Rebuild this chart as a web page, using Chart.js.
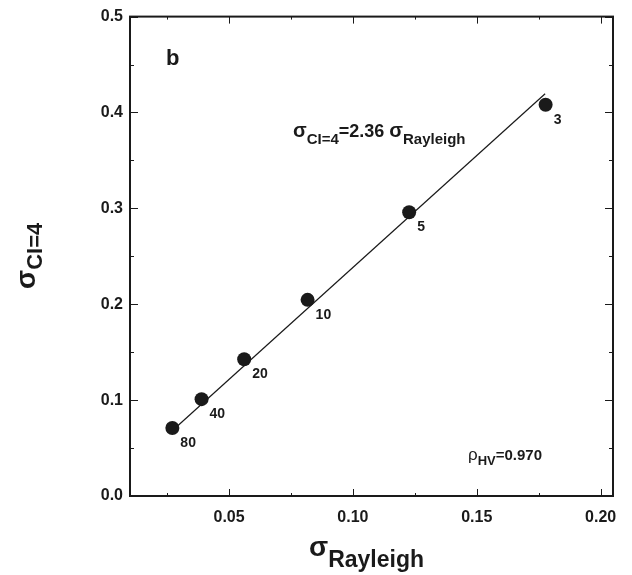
<!DOCTYPE html>
<html>
<head>
<meta charset="utf-8">
<script src="https://cdn.jsdelivr.net/npm/chart.js@4/dist/chart.umd.min.js"></script>
<style>
  html, body { margin: 0; padding: 0; background: #fff; }
  #wrap { width: 632px; height: 575px; }
</style>
</head>
<body>
<div id="wrap"><canvas id="grafica"></canvas></div>
<script>
/* ====== datos ====== */
const xRayleigh = [0.0271, 0.0389, 0.0561, 0.0817, 0.1227, 0.1778];
const yCI4 = [0.0709, 0.101, 0.1427, 0.2046, 0.296, 0.408];
const etiquetas = ["80", "40", "20", "10", "5", "3"];

// recta de ajuste (extremos)
const ajusteX = [0.0285, 0.1776];
const ajusteY = [0.0715, 0.4195];

const xTicks = [0.05, 0.10, 0.15, 0.20];
const xMinor = [0.025, 0.075, 0.125, 0.175];
const yTicks = [0.0, 0.1, 0.2, 0.3, 0.4, 0.5];
const yMinor = [0.05, 0.15, 0.25, 0.35, 0.45];

const FONT = "'Liberation Sans', Arial, sans-serif";
const NEGRO = "#1a1a1a";

/* ====== plugin: marco, ticks internos, textos ====== */
const marco = {
  id: "marco",
  afterDatasetsDraw(chart) {
    const { ctx, chartArea: a, scales } = chart;
    const sx = scales.x, sy = scales.y;
    ctx.save();
    ctx.strokeStyle = NEGRO;
    ctx.lineWidth = 1;

    // ticks hacia adentro
    const tickX = (vals, len) => vals.forEach(v => {
      const px = Math.round(sx.getPixelForValue(v)) + 0.5;
      ctx.beginPath();
      ctx.moveTo(px, a.bottom); ctx.lineTo(px, a.bottom - len);
      ctx.moveTo(px, a.top); ctx.lineTo(px, a.top + len);
      ctx.stroke();
    });
    const tickY = (vals, len) => vals.forEach(v => {
      const py = Math.round(sy.getPixelForValue(v)) + 0.5;
      ctx.beginPath();
      ctx.moveTo(a.left, py); ctx.lineTo(a.left + len, py);
      ctx.moveTo(a.right, py); ctx.lineTo(a.right - len, py);
      ctx.stroke();
    });
    tickX(xTicks, 7); tickX(xMinor, 3);
    tickY(yTicks, 8); tickY(yMinor, 4);

    // marco
    ctx.lineWidth = 2;
    ctx.strokeRect(a.left, a.top, a.right - a.left, a.bottom - a.top);

    // etiquetas de puntos
    ctx.fillStyle = NEGRO;
    ctx.font = "bold 14px " + FONT;
    ctx.textAlign = "left";
    ctx.textBaseline = "middle";
    chart.getDatasetMeta(1).data.forEach((p, i) => {
      ctx.fillText(etiquetas[i], p.x + 8, p.y + 15);
    });

    // texto con subindice
    const conSub = (x, y, partes) => {
      let cx = x;
      ctx.textBaseline = "alphabetic";
      partes.forEach(([txt, font, dy]) => {
        ctx.font = font;
        ctx.fillText(txt, cx, y + dy);
        cx += ctx.measureText(txt).width;
      });
    };

    ctx.font = "bold 22px " + FONT;
    ctx.textBaseline = "alphabetic";
    ctx.fillText("b", 166, 65);

    conSub(293, 137, [
      ["σ", "bold 20px " + FONT, 0],
      ["CI=4", "bold 15px " + FONT, 7],
      ["=2.36 ", "bold 18px " + FONT, 0],
      ["σ", "bold 20px " + FONT, 0],
      ["Rayleigh", "bold 15px " + FONT, 7]
    ]);

    conSub(468, 460, [
      ["ρ", "17px " + FONT, 0],
      ["HV", "bold 13px " + FONT, 5],
      ["=0.970", "bold 15px " + FONT, 0]
    ]);

    // titulos de ejes
    conSub(309, 556, [
      ["σ", "bold 28px " + FONT, 0],
      ["Rayleigh", "bold 23px " + FONT, 11]
    ]);

    ctx.translate(35, 289);
    ctx.rotate(-Math.PI / 2);
    conSub(0, 0, [
      ["σ", "bold 28px " + FONT, 0],
      ["CI=4", "bold 22px " + FONT, 7]
    ]);
    ctx.restore();
  }
};

/* ====== grafica ====== */
new Chart(document.getElementById("grafica"), {
  type: "scatter",
  data: {
    datasets: [
      {
        type: "line",
        data: ajusteX.map((x, i) => ({ x, y: ajusteY[i] })),
        borderColor: NEGRO,
        borderWidth: 1.2,
        pointRadius: 0,
        fill: false
      },
      {
        data: xRayleigh.map((x, i) => ({ x, y: yCI4[i] })),
        backgroundColor: NEGRO,
        borderColor: NEGRO,
        pointRadius: 7,
        pointBorderWidth: 0
      }
    ]
  },
  options: {
    responsive: true,
    maintainAspectRatio: false,
    animation: false,
    layout: { padding: { top: 14, right: 19, left: 0, bottom: 0 } },
    plugins: { legend: { display: false }, tooltip: { enabled: false } },
    scales: {
      x: {
        type: "linear",
        min: 0.01, max: 0.205,
        afterBuildTicks: s => { s.ticks = xTicks.map(v => ({ value: v })); },
        afterFit: s => { s.height = 79; },
        grid: { display: false, drawTicks: false },
        border: { display: false },
        ticks: {
          color: NEGRO,
          padding: 12,
          font: { family: FONT, size: 16, weight: "bold" },
          callback: v => v.toFixed(2)
        }
      },
      y: {
        type: "linear",
        min: 0, max: 0.5,
        afterBuildTicks: s => { s.ticks = yTicks.map(v => ({ value: v })); },
        afterFit: s => { s.width = 130; },
        grid: { display: false, drawTicks: false },
        border: { display: false },
        ticks: {
          color: NEGRO,
          padding: 7,
          font: { family: FONT, size: 16, weight: "bold" },
          callback: v => v.toFixed(1)
        }
      }
    }
  },
  plugins: [marco]
});
</script>
</body>
</html>
